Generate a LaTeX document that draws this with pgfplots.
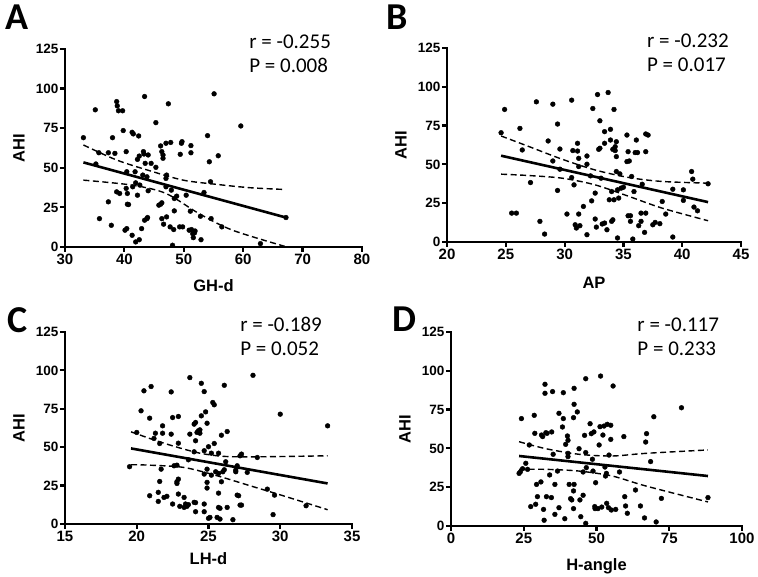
\documentclass[border=0pt]{standalone}
\usepackage{fontspec}
\setmainfont{Liberation Sans}
\newfontfamily\calfont{Carlito}
\usepackage{pgfplots}
\pgfplotsset{compat=1.18}
\pgfplotsset{prism/.style={
  scale only axis, anchor=south west,
  axis lines*=left,
  axis line style={line width=2.5pt, line cap=rect},
  tick align=outside, major tick length=5pt,
  every tick/.style={line width=2.2pt, black},
  ymin=0, ymax=125, ytick={0,25,...,125},
  clip=false,
  /pgf/number format/assume math mode=true,
  y tick label style={font=\fontsize{13.5}{13}\selectfont\bfseries, inner sep=1.5pt},
  x tick label style={font=\fontsize{15}{14}\selectfont\bfseries, inner sep=2pt},
  every axis y label/.style={at={(axis description cs:0,0.5)}, xshift=-46pt, anchor=center, rotate=90, font=\fontsize{16.5}{16}\selectfont\bfseries},
  every axis x label/.style={at={(axis description cs:0.5,0)}, anchor=center, yshift=-39pt, font=\fontsize{16.5}{16}\selectfont\bfseries},
  ylabel={AHI},
}}
\tikzset{
  pts/.style={only marks, mark=*, mark size=2.4pt, black},
  reg/.style={black, line width=2.6pt},
  band/.style={black, line width=1.4pt, dash pattern=on 6pt off 3.5pt, smooth},
  stat/.style={anchor=base west, inner sep=0pt, font=\calfont\fontsize{21}{21}\selectfont},
  letter/.style={anchor=base west, inner sep=0pt, font=\calfont\bfseries\fontsize{38}{38}\selectfont},
}
\begin{document}
\begin{tikzpicture}[x=1pt,y=1pt]
\path[use as bounding box] (0,0) rectangle (758,577);
% ---------------- A ----------------
\begin{axis}[prism, at={(65pt,330pt)}, width=297pt, height=198pt,
  xmin=30, xmax=80, xtick={30,40,...,80}, xlabel={GH-d}]
\addplot[pts] table {
33.1 69.0
35.1 86.6
35.2 52.4
35.8 17.9
35.7 59.5
37.3 59.5
37.3 28.5
37.8 13.7
38.0 69.0
38.4 59.1
38.7 91.8
38.8 89.1
39.0 86.0
39.7 86.0
38.7 34.8
39.2 33.8
39.8 73.5
40.3 60.2
40.3 37.0
40.1 10.6
40.4 11.6
40.4 47.5
40.5 33.8
40.5 27.0
40.7 26.8
41.3 7.4
41.3 72.4
41.5 71.4
41.4 38.0
41.8 47.5
41.9 40.5
42.2 55.3
42.2 32.7
42.4 70.1
41.9 3.2
42.5 4.6
42.5 57.4
42.6 39.1
42.9 11.6
43.1 45.4
43.2 60.2
43.4 95.0
43.3 58.7
43.5 52.8
43.4 16.9
43.8 17.9
43.9 18.6
44.0 58.1
44.0 35.5
44.5 52.8
43.8 44.3
45.3 78.5
45.3 50.3
46.1 63.8
46.3 60.2
46.5 58.1
46.5 56.0
45.8 26.4
46.1 27.0
46.3 27.9
46.3 17.9
46.6 14.4
47.0 65.5
47.1 45.4
47.0 43.3
47.0 38.0
47.1 19.0
47.4 90.4
47.8 66.0
47.7 12.7
47.9 35.9
48.1 1.1
48.3 11.0
48.4 30.6
48.4 22.8
48.8 32.1
49.4 58.5
49.6 65.5
49.7 66.5
49.3 12.7
49.8 12.7
50.4 32.7
50.9 10.6
51.1 22.6
51.2 64.0
51.2 59.5
51.3 11.0
51.5 8.4
51.6 5.9
51.8 8.9
51.9 10.1
52.8 19.4
52.9 4.6
53.4 34.4
54.0 70.3
54.3 53.8
54.5 41.2
54.6 17.9
55.1 96.7
55.8 57.6
56.4 12.7
59.6 76.4
62.9 2.1
67.2 18.6
};
\addplot[reg] coordinates {(33.1,53.4) (67.2,18.6)};
\addplot[band] coordinates {(33.1,64.4) (38.7,54.9) (44.3,48.1) (49.9,42.2) (55.6,39.5) (61.2,37.4) (67.1,36.3)};
\addplot[band] coordinates {(33.1,42.2) (41.4,39.0) (47.0,33.8) (52.6,21.0) (58.2,10.6) (67.0,0.4)};
\node[stat] at (axis description cs:0.62,1) {r = -0.255};
\node[stat, yshift=-24pt] at (axis description cs:0.62,1) {P = 0.008};
\end{axis}
% ---------------- B ----------------
\begin{axis}[prism, at={(447pt,335pt)}, width=294pt, height=194pt,
  xmin=20, xmax=45, xtick={20,25,...,45}, xlabel={AP}, every axis x label/.append style={yshift=-2pt}]
\addplot[pts] table {
24.6 70.4
24.9 85.4
25.5 18.6
25.9 18.6
26.2 73.2
26.4 59.3
27.1 38.3
27.6 90.3
27.9 13.3
28.3 5.1
28.6 65.1
29.0 88.8
29.0 52.2
29.4 76.0
29.4 33.2
29.6 59.9
29.6 46.9
30.2 18.0
30.6 91.4
30.7 58.9
30.6 41.5
30.8 36.8
30.9 11.1
31.0 9.0
31.1 63.6
31.1 58.6
31.2 53.9
31.2 48.6
31.2 18.0
31.3 10.5
31.6 22.9
31.9 4.7
31.9 55.4
31.9 50.1
32.3 26.5
32.4 86.0
32.2 42.6
32.6 31.5
32.6 14.8
32.7 9.6
32.8 95.0
32.9 59.7
33.0 60.4
33.0 78.1
33.1 41.1
33.2 11.6
33.4 71.1
33.4 63.6
33.4 12.2
33.6 7.9
33.7 96.3
33.8 27.2
33.9 65.7
33.9 72.6
34.0 32.5
34.0 13.3
34.1 14.3
34.1 59.7
34.2 27.2
34.2 85.4
34.3 58.9
34.3 61.4
34.4 64.6
34.4 45.4
34.4 55.0
34.5 33.6
34.5 2.6
34.6 28.3
34.7 43.9
34.8 34.7
35.0 35.3
35.3 68.9
35.3 51.8
35.4 58.2
35.5 52.2
35.4 16.9
35.6 16.9
35.6 13.3
35.7 42.2
35.8 1.9
35.9 32.5
36.0 57.6
36.1 65.7
36.2 57.6
36.3 10.5
36.5 13.3
36.6 37.2
36.5 18.6
36.8 6.2
36.9 18.6
36.9 69.6
37.1 68.9
36.9 58.2
37.5 11.1
37.7 12.6
38.1 11.8
38.3 26.1
38.6 18.0
39.2 34.0
39.2 3.2
40.1 33.6
40.1 26.8
40.8 45.4
40.9 40.5
41.0 22.5
41.3 20.1
42.2 37.5
};
\addplot[reg] coordinates {(24.6,55.6) (42.2,25.7)};
\addplot[band] coordinates {(24.6,68.3) (27.0,61.4) (29.8,53.3) (32.6,46.4) (35.5,41.5) (38.3,39.0) (42.2,37.9)};
\addplot[band] coordinates {(24.6,43.7) (27.0,42.8) (29.8,41.1) (32.6,36.8) (35.5,29.3) (38.3,21.8) (42.2,13.7)};
\node[stat] at (axis description cs:0.68,1) {r = -0.232};
\node[stat, yshift=-24pt] at (axis description cs:0.68,1) {P = 0.017};
\end{axis}
% ---------------- C ----------------
\begin{axis}[prism, at={(65pt,53pt)}, width=287pt, height=192pt,
  xmin=15, xmax=35, xtick={15,20,...,35}, xlabel={LH-d}, every axis x label/.append style={yshift=4pt}]
\addplot[pts] table {
19.5 37.3
20.0 59.6
20.3 73.7
20.5 86.7
20.9 68.9
20.9 18.4
21.0 89.5
21.2 55.7
21.3 59.1
21.5 20.6
21.5 14.7
21.6 27.7
21.6 52.4
21.7 35.7
21.8 63.9
21.8 59.1
21.9 17.3
22.1 18.0
22.4 58.5
22.4 86.0
22.5 13.0
22.5 69.3
22.6 37.9
22.8 38.3
22.8 26.4
22.8 27.5
22.9 29.2
22.9 19.5
22.9 70.0
22.9 52.6
23.0 11.5
23.3 17.3
23.3 10.8
23.4 13.0
23.6 12.6
23.6 41.8
23.7 95.3
23.7 58.5
23.5 11.5
24.0 14.1
24.0 47.0
24.0 65.0
24.1 66.1
24.1 13.9
24.1 8.0
24.1 54.2
24.2 59.6
24.3 60.7
24.4 59.1
24.4 61.3
24.5 70.4
24.5 91.6
24.7 86.2
24.7 47.7
24.7 32.5
24.7 13.0
24.7 8.0
24.8 73.0
24.9 35.7
24.9 27.1
24.9 23.4
24.9 65.6
25.0 50.3
25.0 3.7
25.1 4.3
25.2 46.1
25.2 31.8
25.3 79.1
25.4 77.6
25.4 52.4
25.5 34.0
25.6 4.3
25.7 46.1
25.7 32.9
25.7 20.1
25.7 10.8
25.8 10.2
25.8 3.2
25.9 57.8
25.9 27.5
26.0 34.0
26.1 90.3
26.1 35.3
26.2 40.5
26.3 60.2
26.3 10.8
26.7 2.8
26.9 35.1
26.9 34.0
27.0 37.9
27.0 18.8
27.1 18.4
27.2 44.4
27.2 12.3
27.3 12.3
27.3 45.5
27.7 33.6
28.1 96.8
28.4 43.3
29.1 22.7
29.5 6.1
29.6 18.8
30.0 71.5
31.8 11.9
33.3 63.9
};
\addplot[reg] coordinates {(19.6,49.2) (33.3,26.4)};
\addplot[band] coordinates {(19.6,60.0) (20.9,55.7) (22.1,52.0) (23.3,48.7) (24.4,46.1) (25.6,44.4) (26.7,43.8) (29.1,43.8) (33.3,44.4)};
\addplot[band] coordinates {(19.6,38.6) (20.9,38.3) (23.3,36.8) (25.6,31.4) (27.9,24.9) (30.2,18.4) (33.3,9.3)};
\node[stat] at (axis description cs:0.61,1) {r = -0.189};
\node[stat, yshift=-24pt] at (axis description cs:0.61,1) {P = 0.052};
\end{axis}
% ---------------- D ----------------
\begin{axis}[prism, at={(451pt,51pt)}, width=291pt, height=194pt,
  xmin=0, xmax=100, xtick={0,25,...,100}, xlabel={H-angle}, every axis x label/.append style={yshift=-1pt}]
\addplot[pts] table {
23.4 33.9
23.8 34.8
24.2 69.2
24.6 36.9
25.7 40.4
26.3 36.5
26.9 52.2
27.4 12.5
28.6 71.3
28.8 59.7
29.4 26.8
29.7 18.9
29.1 14.0
30.9 28.4
31.1 58.6
31.5 57.6
31.8 10.7
32.0 3.7
32.3 91.3
32.3 85.5
32.6 60.1
32.8 18.9
33.0 59.7
33.9 32.9
34.5 18.3
34.6 60.6
34.9 86.6
35.1 46.2
35.7 26.8
35.7 7.5
36.6 35.4
37.1 11.8
37.1 72.6
38.3 63.8
38.6 85.9
38.6 69.2
39.1 4.7
39.4 52.6
40.0 58.0
40.2 46.8
40.2 55.2
40.2 44.7
40.6 26.8
41.1 17.6
41.5 16.8
42.1 69.8
42.3 78.4
42.3 88.7
42.1 22.6
42.3 26.8
42.1 11.2
43.4 73.5
44.0 49.8
44.3 16.8
44.6 6.0
45.4 19.8
45.4 34.8
45.9 58.4
46.3 94.9
46.3 47.3
46.3 1.7
46.5 37.6
47.8 65.9
48.2 59.5
48.6 43.0
49.1 60.6
48.8 35.4
49.4 12.5
49.7 27.9
49.5 11.2
50.5 11.2
50.9 52.2
51.2 64.0
51.4 96.6
51.8 12.2
52.2 58.6
52.6 64.4
52.9 38.0
53.1 32.2
53.4 33.9
53.5 14.6
53.7 65.5
54.1 11.8
54.3 45.7
54.9 55.8
54.9 64.9
55.1 10.3
55.7 90.2
56.6 10.7
57.9 34.8
59.4 57.6
59.7 18.9
60.0 12.9
60.6 8.2
63.4 23.2
65.1 12.9
66.5 5.2
66.9 54.1
67.2 59.5
68.6 41.5
69.7 70.4
70.5 2.6
72.3 17.8
79.2 76.2
88.3 18.3
};
\addplot[reg] coordinates {(23.4,45.1) (88.3,32.2)};
\addplot[band] coordinates {(23.4,54.3) (32.6,49.8) (44.0,46.2) (55.4,45.1) (66.9,46.8) (88.3,49.0)};
\addplot[band] coordinates {(23.4,36.5) (32.6,36.5) (44.0,35.4) (55.4,32.2) (66.9,25.8) (88.3,15.5)};
\node[stat] at (axis description cs:0.64,1) {r = -0.117};
\node[stat, yshift=-24pt] at (axis description cs:0.64,1) {P = 0.233};
\end{axis}
% panel letters
\node[letter] at (5,547) {A};
\node[letter] at (386,547) {B};
\node[letter] at (7,244) {C};
\node[letter] at (392,245) {D};
\end{tikzpicture}
\end{document}
